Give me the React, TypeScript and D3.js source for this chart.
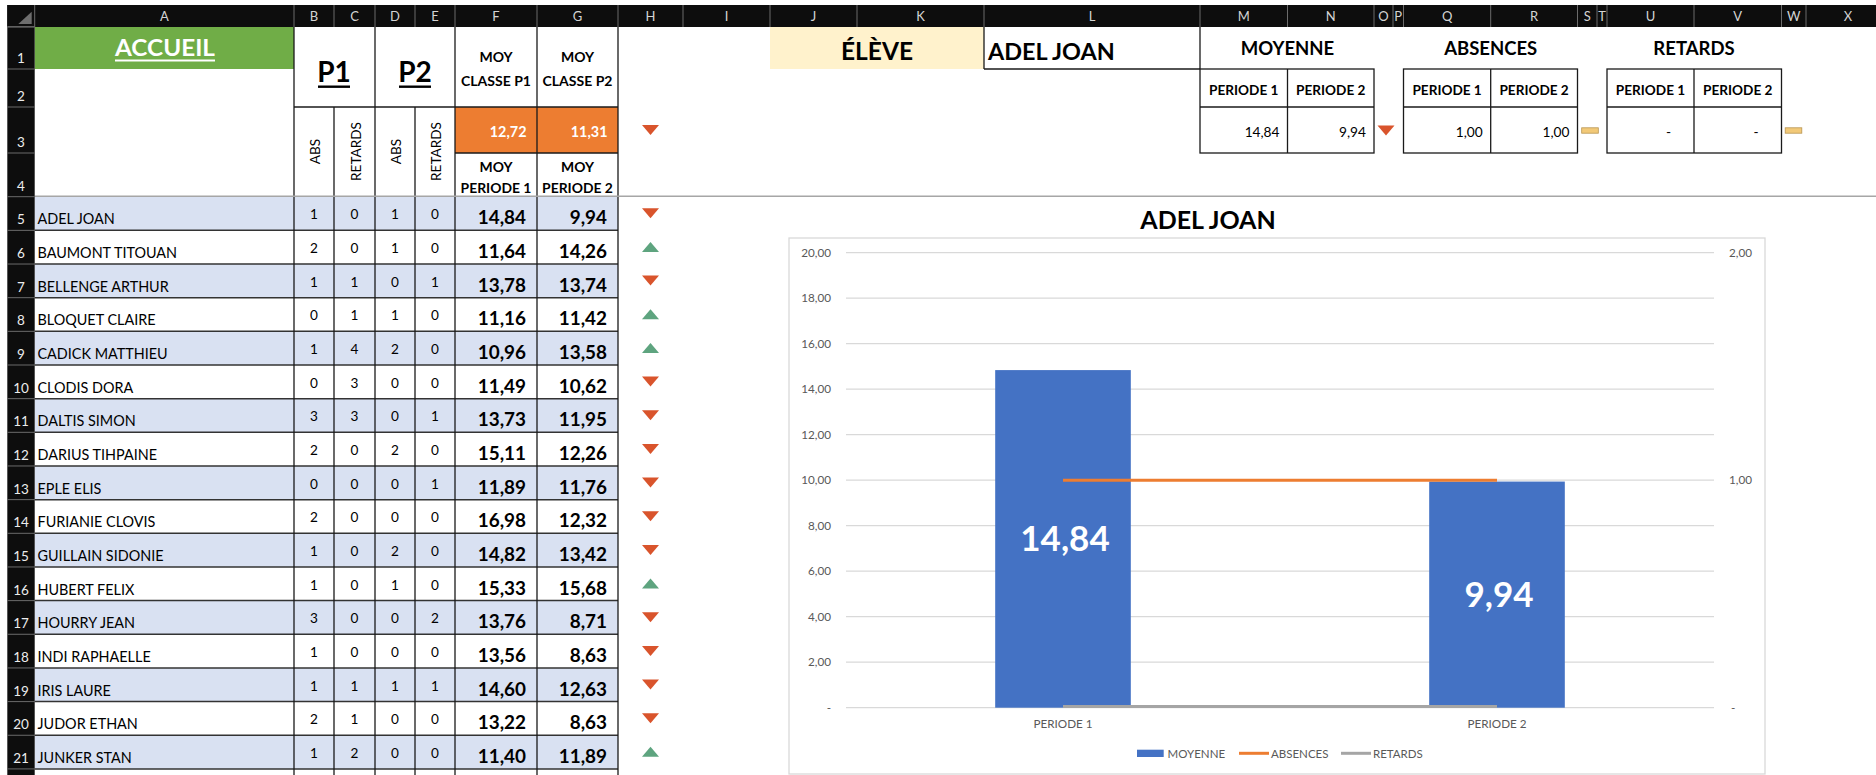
import React from 'react';
import * as d3 from 'd3';

const W = 1876;
const H = 775;
const FONT = "Lato, 'Open Sans', sans-serif";

// ---- table data ----
const students = [
  'ADEL JOAN', 'BAUMONT TITOUAN', 'BELLENGE ARTHUR', 'BLOQUET CLAIRE', 'CADICK MATTHIEU',
  'CLODIS DORA', 'DALTIS SIMON', 'DARIUS TIHPAINE', 'EPLE ELIS', 'FURIANIE CLOVIS',
  'GUILLAIN SIDONIE', 'HUBERT FELIX', 'HOURRY JEAN', 'INDI RAPHAELLE', 'IRIS LAURE',
  'JUDOR ETHAN', 'JUNKER STAN',
];
const absP1 = [1, 2, 1, 0, 1, 0, 3, 2, 0, 2, 1, 1, 3, 1, 1, 2, 1];
const retP1 = [0, 0, 1, 1, 4, 3, 3, 0, 0, 0, 0, 0, 0, 0, 1, 1, 2];
const absP2 = [1, 1, 0, 1, 2, 0, 0, 2, 0, 0, 2, 1, 0, 0, 1, 0, 0];
const retP2 = [0, 0, 1, 0, 0, 0, 1, 0, 1, 0, 0, 0, 2, 0, 1, 0, 0];
const moyP1 = [14.84, 11.64, 13.78, 11.16, 10.96, 11.49, 13.73, 15.11, 11.89, 16.98, 14.82, 15.33, 13.76, 13.56, 14.6, 13.22, 11.4];
const moyP2 = [9.94, 14.26, 13.74, 11.42, 13.58, 10.62, 11.95, 12.26, 11.76, 12.32, 13.42, 15.68, 8.71, 8.63, 12.63, 8.63, 11.89];
const classAvg = [12.72, 11.31];

// ---- selected student / chart data ----
const selected = 'ADEL JOAN';
const periods = ['PERIODE 1', 'PERIODE 2'];
const moyenne = [14.84, 9.94];
const absences = [1, 1];
const retards = [0, 0];
const seriesNames = ['MOYENNE', 'ABSENCES', 'RETARDS'];
const leftTicks = [0, 2, 4, 6, 8, 10, 12, 14, 16, 18, 20];
const rightTicks = [0, 1, 2];

const columns = ['A', 'B', 'C', 'D', 'E', 'F', 'G', 'H', 'I', 'J', 'K', 'L', 'M', 'N', 'O', 'P', 'Q', 'R', 'S', 'T', 'U', 'V', 'W', 'X'];

// sheet geometry
const colEdges = [34.7, 294, 334, 375, 415, 455, 537, 618, 683, 770, 857, 984, 1200, 1287.5, 1374, 1393, 1403.5, 1490.7, 1577.5, 1597, 1607, 1694, 1781.5, 1806, 1890];
const headRows = [27, 69, 107, 153, 196.7];
const ROW_H = 33.66;

const loc = d3.formatLocale({ decimal: ',', thousands: '\u00a0', grouping: [3], currency: ['', ' €'] });
const f2 = loc.format('.2f');
const acct = (v: number) => (v === 0 ? '-' : f2(v));

const RED = '#D9542C';
const GREEN = '#5EA47F';
const BORDER = '#1a1a1a';
const AXIS_TXT = '#595959';

const cx = (i: number) => (colEdges[i] + colEdges[i + 1]) / 2;
const cl = (i: number) => colEdges[i];
const cr = (i: number) => colEdges[i + 1];

const Tri = ({ x, y, up }: { x: number; y: number; up: boolean }) => (
  <path
    d={up ? `M${x - 8.5},${y + 5}L${x + 8.5},${y + 5}L${x},${y - 5}Z` : `M${x - 8.5},${y - 5}L${x + 8.5},${y - 5}L${x},${y + 5}Z`}
    fill={up ? GREEN : RED}
  />
);

const Flat = ({ x, y }: { x: number; y: number }) => (
  <rect x={x - 8.3} y={y - 2.7} width={16.6} height={5.4} fill="#F2C978" stroke="#B89450" strokeWidth={0.8} />
);

const Marker = ({ a, b, x, y }: { a: number; b: number; x: number; y: number }) =>
  b === a ? <Flat x={x} y={y} /> : <Tri x={x} y={y} up={b > a} />;

export default function App() {
  const rowY = d3.scaleBand<number>().domain(d3.range(students.length)).range([196.7, 196.7 + students.length * ROW_H]).padding(0);
  const rh = rowY.bandwidth();

  // chart scales
  const x = d3.scaleBand<string>().domain(periods).range([846, 1714]).padding(0);
  const yL = d3.scaleLinear().domain([0, 20]).range([707.7, 252.7]);
  const yR = d3.scaleLinear().domain([0, 2]).range([707.7, 252.7]);
  const barW = x.bandwidth() * 0.3125;
  const mid = (p: string) => (x(p) as number) + x.bandwidth() / 2;
  const line = d3.line<number>().x((_, i) => mid(periods[i])).y((d) => yR(d));

  const rowLabelEdges = [...headRows, ...students.map((_, i) => (rowY(i) as number) + rh)];

  const boxes = [
    { title: seriesNames[0], c0: 12, vals: moyenne, mx: 1386 },
    { title: seriesNames[1], c0: 16, vals: absences, mx: 1590 },
    { title: seriesNames[2], c0: 20, vals: retards, mx: 1793.5 },
  ];

  return (
    <svg width={W} height={H} style={{ position: 'fixed', left: 0, top: 0, background: '#fff' }} fontFamily={FONT}>
      <rect x={0} y={0} width={W} height={H} fill="#fff" />

      {/* header rows 1-4 */}
      <rect x={cl(0)} y={27} width={cr(0) - cl(0)} height={42} fill="#70AD47" />
      <text x={165} y={56} textAnchor="middle" fontWeight="bold" fontSize={22} fill="#fff" textLength={100} lengthAdjust="spacingAndGlyphs">ACCUEIL</text>
      <rect x={115} y={59.5} width={100} height={2} fill="#fff" />

      {[['P1', cr(1)], ['P2', cr(3)]].map(([t, xx]) => (
        <g key={t as string}>
          <text x={xx as number} y={82} textAnchor="middle" fontWeight="bold" fontSize={28} fill="#000">{t}</text>
          <rect x={(xx as number) - 16} y={85.5} width={32} height={2.4} fill="#000" />
        </g>
      ))}
      {[5, 6].map((c, k) => (
        <g key={c}>
          <text x={cx(c)} y={62.3} textAnchor="middle" fontWeight="bold" fontSize={14} fill="#000">MOY</text>
          <text x={cx(c)} y={85.7} textAnchor="middle" fontWeight="bold" fontSize={14} fill="#000">{`CLASSE P${k + 1}`}</text>
          <rect x={cl(c)} y={107} width={cr(c) - cl(c)} height={46} fill="#ED7D31" />
          <text x={cr(c) - 10.5} y={136.7} textAnchor="end" fontWeight="bold" fontSize={14.4} fill="#fff">{f2(classAvg[k])}</text>
          <text x={cx(c)} y={171.7} textAnchor="middle" fontWeight="bold" fontSize={13.9} fill="#000">MOY</text>
          <text x={cx(c)} y={193.3} textAnchor="middle" fontWeight="bold" fontSize={13.9} fill="#000">{`PERIODE ${k + 1}`}</text>
        </g>
      ))}
      {['ABS', 'RETARDS', 'ABS', 'RETARDS'].map((t, k) => (
        <text key={k} transform={`translate(${cx(k + 1) + 1},151.5) rotate(-90)`} textAnchor="middle" dominantBaseline="central" fontSize={13.6} fill="#000">{t}</text>
      ))}
      <Marker a={classAvg[0]} b={classAvg[1]} x={650.5} y={130} />
      <g stroke={BORDER} strokeWidth={1.3}>
        {[1, 3, 5, 6, 7].map((c) => <line key={c} x1={cl(c)} x2={cl(c)} y1={27} y2={196.7} />)}
        {[2, 4].map((c) => <line key={c} x1={cl(c)} x2={cl(c)} y1={107} y2={196.7} />)}
        <line x1={cl(1)} x2={cr(6)} y1={107} y2={107} />
        <line x1={cl(5)} x2={cr(6)} y1={153} y2={153} />
      </g>

      {/* selected student header block */}
      <rect x={cl(9)} y={27} width={cr(10) - cl(9)} height={42} fill="#FFF2CC" />
      <text x={877} y={60} textAnchor="middle" fontWeight="bold" fontSize={24.5} fill="#000">ÉLÈVE</text>
      <text x={988} y={60} fontWeight="bold" fontSize={23.4} fill="#000">{selected}</text>
      <g stroke={BORDER} strokeWidth={1.3}>
        <line x1={cl(11)} x2={cl(11)} y1={27} y2={69} />
        <line x1={cl(11)} x2={cl(12)} y1={69} y2={69} />
        <line x1={cl(12)} x2={cl(12)} y1={27} y2={69} />
      </g>
      {boxes.map((b) => (
        <g key={b.title}>
          <text x={cr(b.c0)} y={55} textAnchor="middle" fontWeight="bold" fontSize={18.5} fill="#000">{b.title}</text>
          {periods.map((p, k) => (
            <g key={p}>
              <text x={cx(b.c0 + k)} y={95} textAnchor="middle" fontWeight="bold" fontSize={13.6} fill="#000">{p}</text>
              <text x={b.vals[k] === 0 ? cr(b.c0 + k) - 23 : cr(b.c0 + k) - 8} y={136.7} textAnchor="end" fontSize={13.7} fill="#000">{acct(b.vals[k])}</text>
            </g>
          ))}
          <g stroke={BORDER} strokeWidth={1.3} fill="none">
            <rect x={cl(b.c0)} y={69} width={cr(b.c0 + 1) - cl(b.c0)} height={84} />
            <line x1={cl(b.c0)} x2={cr(b.c0 + 1)} y1={107} y2={107} />
            <line x1={cr(b.c0)} x2={cr(b.c0)} y1={69} y2={153} />
          </g>
          <Marker a={b.vals[0]} b={b.vals[1]} x={b.mx} y={130.5} />
        </g>
      ))}

      {/* data rows */}
      {students.map((s, i) => {
        const y = rowY(i) as number;
        const nums = [absP1[i], retP1[i], absP2[i], retP2[i]];
        return (
          <g key={s}>
            <rect x={cl(0)} y={y} width={cr(6) - cl(0)} height={rh} fill={i % 2 === 0 ? '#D9E1F2' : '#fff'} />
            <text x={37.5} y={y + 27.6} fontSize={14.4} fill="#000">{s}</text>
            {nums.map((n, k) => (
              <text key={k} x={cx(k + 1)} y={y + 22.6} textAnchor="middle" fontSize={13.6} fill="#000">{n}</text>
            ))}
            <text x={cr(5) - 11} y={y + 27.6} textAnchor="end" fontWeight="bold" fontSize={18.9} fill="#000">{f2(moyP1[i])}</text>
            <text x={cr(6) - 11} y={y + 27.6} textAnchor="end" fontWeight="bold" fontSize={18.9} fill="#000">{f2(moyP2[i])}</text>
            <Marker a={moyP1[i]} b={moyP2[i]} x={650.5} y={y + 16.6} />
          </g>
        );
      })}
      <g stroke="#333" strokeWidth={1.5}>
        {students.map((_, i) => (
          <line key={i} x1={cl(0)} x2={cr(6)} y1={(rowY(i) as number) + rh} y2={(rowY(i) as number) + rh} />
        ))}
      </g>
      <g stroke={BORDER} strokeWidth={1.3}>
        {[1, 2, 3, 4, 5, 6, 7].map((c) => <line key={c} x1={cl(c)} x2={cl(c)} y1={196.7} y2={H} />)}
      </g>
      <line x1={cl(0)} x2={W} y1={196.3} y2={196.3} stroke="#a6a6a6" strokeWidth={1.6} />

      {/* chart */}
      <rect x={789} y={238} width={976} height={536} fill="#fff" stroke="#d9d9d9" strokeWidth={1.3} />
      <text x={1208} y={229.3} textAnchor="middle" fontWeight="bold" fontSize={25} fill="#000">{selected}</text>
      <g stroke="#d9d9d9" strokeWidth={1.2}>
        {leftTicks.map((t) => <line key={t} x1={846} x2={1714} y1={yL(t)} y2={yL(t)} />)}
      </g>
      {leftTicks.map((t) => (
        <text key={t} x={831} y={yL(t) + 4.2} textAnchor="end" fontSize={11.7} fill={AXIS_TXT}>{acct(t)}</text>
      ))}
      {rightTicks.map((t) => (
        <text key={t} x={t === 0 ? 1731 : 1729} y={yR(t) + 4.2} fontSize={11.7} fill={AXIS_TXT}>{acct(t)}</text>
      ))}
      {periods.map((p, i) => (
        <g key={p}>
          <rect x={mid(p) - barW / 2} y={yL(moyenne[i])} width={barW} height={yL(0) - yL(moyenne[i])} fill="#4472C4" />
          <text x={mid(p) + 2} y={(yL(moyenne[i]) + yL(0)) / 2 + 12.6} textAnchor="middle" fontWeight="bold" fontSize={35} fill="#fff">{f2(moyenne[i])}</text>
          <text x={mid(p)} y={728.2} textAnchor="middle" fontSize={11.7} fill={AXIS_TXT}>{p}</text>
        </g>
      ))}
      <path d={line(absences) as string} fill="none" stroke="#ED7D31" strokeWidth={3} />
      <path d={line(retards.map((v) => v + 0.005)) as string} fill="none" stroke="#A5A5A5" strokeWidth={3} />

      {/* legend */}
      <rect x={1137} y={749.7} width={26.7} height={7.3} fill="#4472C4" />
      <text x={1167.6} y={757.6} fontSize={11.5} fill={AXIS_TXT}>{seriesNames[0]}</text>
      <line x1={1239} x2={1269} y1={753.3} y2={753.3} stroke="#ED7D31" strokeWidth={3} />
      <text x={1271} y={757.6} fontSize={11.5} fill={AXIS_TXT}>{seriesNames[1]}</text>
      <line x1={1341} x2={1371} y1={753.3} y2={753.3} stroke="#A5A5A5" strokeWidth={3} />
      <text x={1373} y={757.6} fontSize={11.5} fill={AXIS_TXT}>{seriesNames[2]}</text>

      {/* excel headers */}
      <rect x={7.3} y={5} width={W} height={22} fill="#0d0d0d" />
      <rect x={7.3} y={5} width={27.4} height={H} fill="#0d0d0d" />
      <path d="M31.7,11.7L31.7,24L18.3,24Z" fill="#6e6e6e" />
      <g stroke="#6b6b6b" strokeWidth={1}>
        {colEdges.map((e, i) => <line key={i} x1={e} x2={e} y1={5} y2={27} />)}
        <line x1={7.3} x2={34.7} y1={26.7} y2={26.7} />
        {rowLabelEdges.map((e, i) => <line key={i} x1={7.3} x2={34.7} y1={e} y2={e} />)}
      </g>
      {columns.map((c, i) => (
        <text key={c} x={cx(i)} y={21} textAnchor="middle" fontSize={13} fill="#d4d4d4">{c}</text>
      ))}
      {rowLabelEdges.slice(1).map((e, i) => (
        <text key={i} x={21} y={e - 6} textAnchor="middle" fontSize={13.5} fill="#ececec">{i + 1}</text>
      ))}
    </svg>
  );
}
